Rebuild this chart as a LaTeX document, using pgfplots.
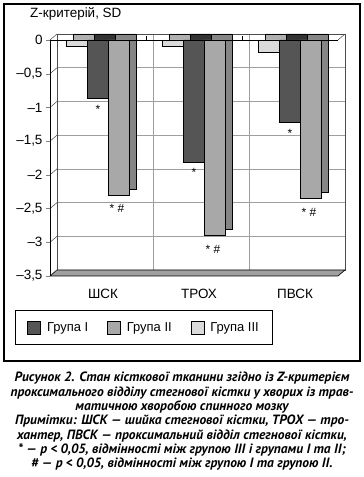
\documentclass[border=0pt]{standalone}
\usepackage{pgfplots}
\pgfplotsset{compat=1.18}
\usepackage{fontspec}
\setmainfont{Liberation Sans}
\newfontfamily\capfont{PT Sans}
\definecolor{gI}{HTML}{555555}
\definecolor{gII}{HTML}{A8A8A8}
\definecolor{gIII}{HTML}{DADADA}
\definecolor{sI}{HTML}{333333}
\definecolor{sII}{HTML}{858585}
\definecolor{sIII}{HTML}{B0B0B0}
\definecolor{floorc}{HTML}{A0A0A0}
\begin{document}
\begin{tikzpicture}
\useasboundingbox (0,0) rectangle (364bp,477bp);
\draw[line width=1.3bp] (4bp,116bp) rectangle (360bp,473bp);
\node[anchor=west, inner sep=0pt, font=\fontsize{13.5}{16}\selectfont] at (30bp,463bp) {Z-критерій, SD};
% back wall with depth copies of the bars
\begin{axis}[at={(57bp,207bp)}, anchor=south west, scale only axis,
  width=288bp, height=236bp, xmin=-0.5, xmax=2.5, ymin=-3.5, ymax=0,
  xtick={0.5,1.5}, ytick={-3.5,-3,-2.5,-2,-1.5,-1,-0.5,0},
  xticklabels={}, yticklabels={}, major tick length=0pt,
  grid=major, grid style={gray!75, line width=0.5bp},
  axis line style={gray!60!black, line width=0.6bp}, clip=false,
  ybar, bar width=0.219]
\addplot[fill=sIII, draw=black, line width=0.5bp, bar shift=-0.219] coordinates {(0,-0.09) (1,-0.09) (2,-0.18)};
\addplot[fill=sI, draw=black, line width=0.5bp, bar shift=0] coordinates {(0,-0.87) (1,-1.81) (2,-1.22)};
\addplot[fill=sII, draw=black, line width=0.5bp, bar shift=0.219] coordinates {(0,-2.30) (1,-2.90) (2,-2.35)};
\end{axis}
% floor
\filldraw[fill=floorc, draw=black, line width=0.6bp] (50bp,201bp) -- (338bp,201bp) -- (345bp,207bp) -- (57bp,207bp) -- cycle;
\foreach \i in {0,...,7} \draw[gray!60!black, line width=0.5bp] (50bp,201bp+\i*33.714bp) -- ++(7bp,6bp);
\draw[gray!60!black, line width=0.5bp] (338bp,437bp) -- ++(7bp,6bp);
% front
\begin{axis}[at={(50bp,201bp)}, anchor=south west, scale only axis,
  width=288bp, height=236bp, xmin=-0.5, xmax=2.5, ymin=-3.5, ymax=0,
  axis x line*=bottom, axis y line*=left,
  x axis line style={draw=none}, y axis line style={line width=0.8bp},
  xtick={0,1,2}, xticklabels={ШСК,ТРОХ,ПВСК},
  major x tick style={draw=none},
  x tick label style={xshift=5bp, yshift=-6bp},
  ytick={-3.5,-3,-2.5,-2,-1.5,-1,-0.5,0},
  yticklabels={{–3,5},{–3},{–2,5},{–2},{–1,5},{–1},{–0,5},0},
  tick align=outside, major tick length=4bp,
  tick label style={font=\fontsize{13.5}{16}\selectfont},
  clip=false, ybar, bar width=0.219,
  legend style={at={(-0.1215,-0.144)}, anchor=north west, draw=black,
    line width=0.9bp, legend columns=3, font=\fontsize{13}{15}\selectfont,
    inner xsep=12bp, inner ysep=10bp,
    /tikz/every odd column/.append style={column sep=4bp},
    /tikz/every even column/.append style={column sep=17bp}},
  legend image code/.code={\draw[#1,draw=black,line width=0.6bp] (0bp,-6.5bp) rectangle (13bp,6.5bp);},
  ]
\addplot[fill=gIII, draw=black, line width=0.5bp, bar shift=-0.219, forget plot] coordinates {(0,-0.09) (1,-0.09) (2,-0.18)};
\addplot[fill=gI, draw=black, line width=0.5bp, bar shift=0, forget plot,
  nodes near coords, point meta=explicit symbolic,
  every node near coord/.append style={font=\fontsize{12}{14}\selectfont, anchor=north, yshift=-3bp}]
  coordinates {(0,-0.87) [*] (1,-1.81) [*] (2,-1.22) [*]};
\addplot[fill=gII, draw=black, line width=0.5bp, bar shift=0.219, forget plot,
  nodes near coords, point meta=explicit symbolic,
  every node near coord/.append style={font=\fontsize{12}{14}\selectfont, anchor=north, yshift=-6bp, xshift=-2bp}]
  coordinates {(0,-2.30) [* \#] (1,-2.90) [* \#] (2,-2.35) [* \#]};
\draw[line width=0.8bp] (axis cs:-0.5,0) -- (axis cs:2.5,0);
\draw[line width=0.8bp] (axis cs:0.5,0) -- ([yshift=4bp]axis cs:0.5,0);
\draw[line width=0.8bp] (axis cs:1.5,0) -- ([yshift=4bp]axis cs:1.5,0);
\addlegendimage{fill=gI}
\addlegendentry{Група I}
\addlegendimage{fill=gII}
\addlegendentry{Група II}
\addlegendimage{fill=gIII}
\addlegendentry{Група III}
\end{axis}
\node[font=\capfont\bfseries\itshape\fontsize{13.5}{14.4}\selectfont, align=center, inner sep=0pt] at (182bp,55.5bp) {Рисунок 2. Стан кісткової тканини згідно із Z-критерієм\\
проксимального відділу стегнової кістки у хворих із трав-\\
матичною хворобою спинного мозку\\
Примітки: ШСК — шийка стегнової кістки, ТРОХ — тро-\\
хантер, ПВСК — проксимальний відділ стегнової кістки,\\
* — p < 0,05, відмінності між групою III і групами I та II;\\
\# — p < 0,05, відмінності між групою I та групою II.};
\end{tikzpicture}
\end{document}
